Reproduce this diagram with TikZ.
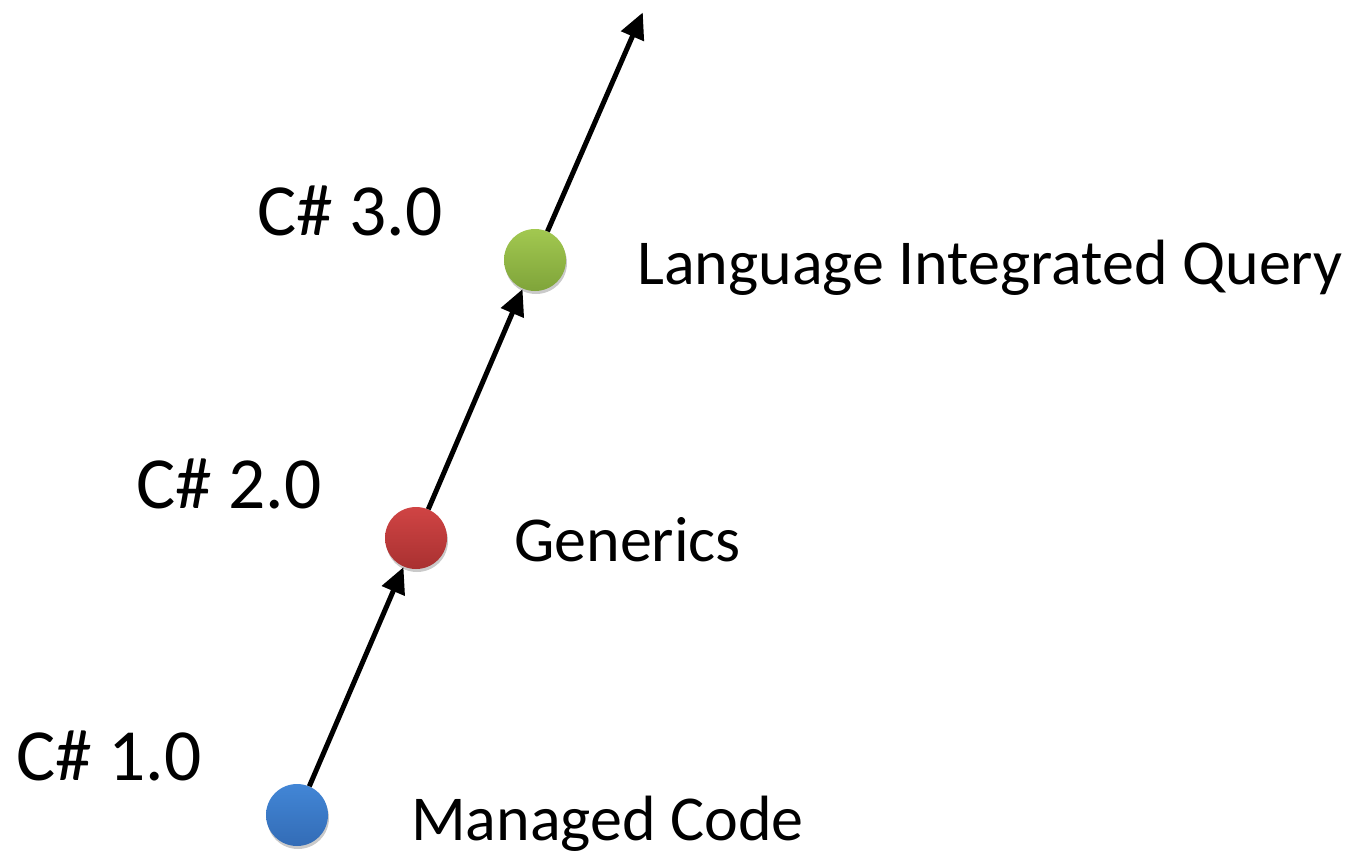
\documentclass[tikz,border=0pt]{standalone}
\usepackage{fontspec}
\setmainfont{Carlito}
\usetikzlibrary{arrows.meta}
\definecolor{bluetop}{HTML}{4286D6}
\definecolor{bluebot}{HTML}{336CB6}
\definecolor{redtop}{HTML}{D04444}
\definecolor{redbot}{HTML}{A93131}
\definecolor{greentop}{HTML}{A2C850}
\definecolor{greenbot}{HTML}{7FA43A}
\tikzset{
  ball/.style n args={2}{circle, minimum size=62pt, inner sep=0pt, top color=#1, bottom color=#2, draw=none},
  shadowball/.style={circle, minimum size=62pt, inner sep=0pt, fill=gray!70, opacity=0.6},
  ver/.style={font=\fontsize{73.5}{80}\selectfont, anchor=base west, inner sep=0pt},
  feat/.style={font=\fontsize{64}{70}\selectfont, anchor=base west, inner sep=0pt},
  conn/.style={line width=5pt, -{Triangle[length=26pt,width=24pt]}, shorten >=0.5pt}
}
\begin{document}
\begin{tikzpicture}[x=1pt,y=-1pt]
\useasboundingbox (0,0) rectangle (1353,856);
% shadows
\node[shadowball] at (298,818) {};
\node[shadowball] at (417,541) {};
\node[shadowball] at (536,263) {};
% balls
\node[ball={bluetop}{bluebot}] (b1) at (297,815) {};
\node[ball={redtop}{redbot}] (b2) at (416,538) {};
\node[ball={greentop}{greenbot}] (b3) at (535,260) {};
\coordinate (top) at (643,12);
% connectors
\draw[conn] (b1) -- (b2);
\draw[conn] (b2) -- (b3);
\draw[conn] (b3) -- (top);
% labels
\node[ver] (v3) at (257,235) {C\# 3.0};
\node[ver] (v2) at (136,508) {C\# 2.0};
\node[ver] (v1) at (16,780) {C\# 1.0};
\node[feat] (f3) at (637,284) {Language Integrated Query};
\node[feat] (f2) at (514,561) {Generics};
\node[feat] (f1) at (411,840) {Managed Code};
\end{tikzpicture}
\end{document}
